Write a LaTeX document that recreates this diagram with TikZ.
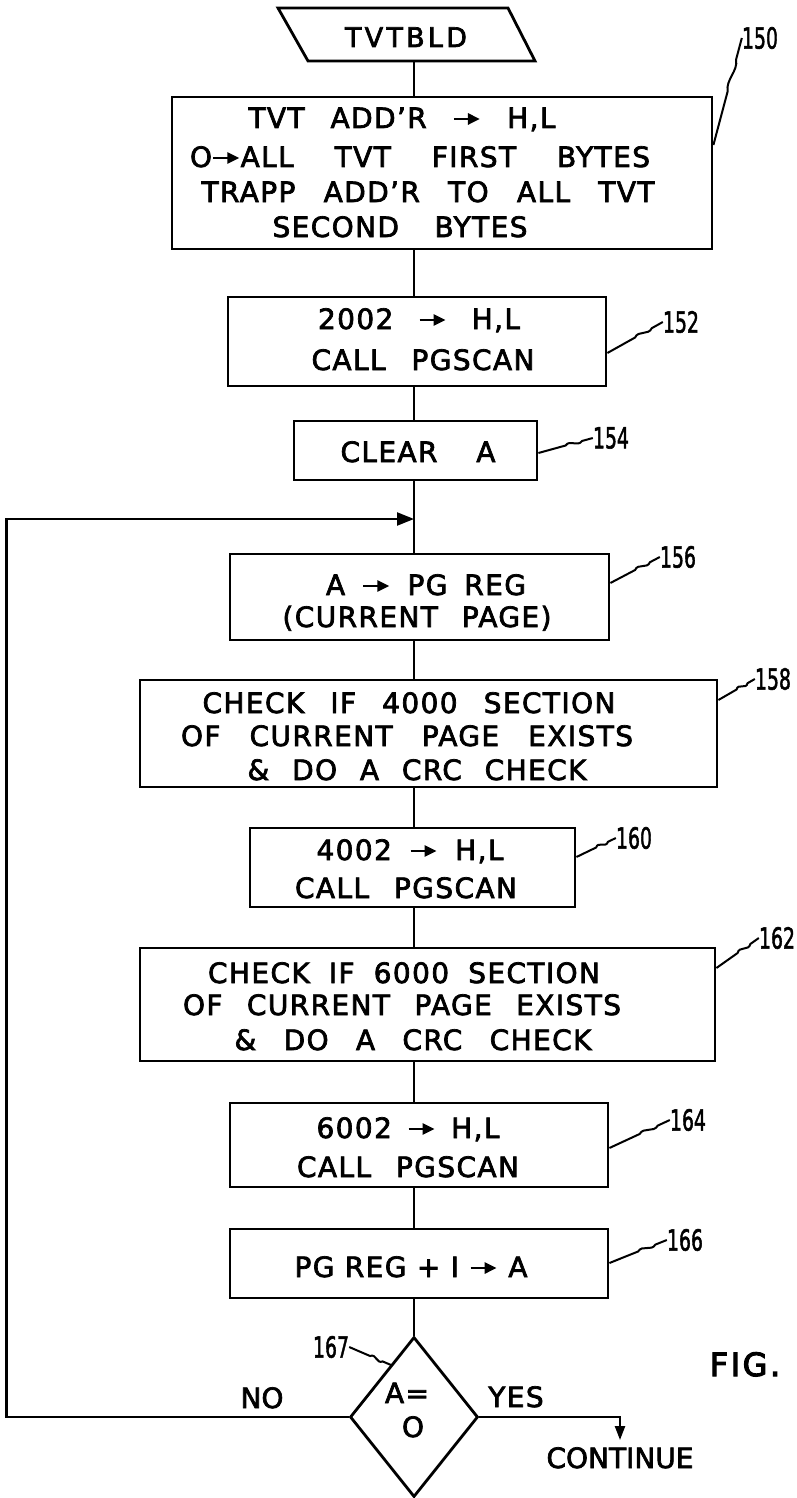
\documentclass[tikz,border=0pt]{standalone}
\usepackage{fontspec}
\usepackage{graphicx}
\setmainfont{DejaVu Sans}[LetterSpace=5,FakeBold=2.5]
\newfontfamily\numfont{DejaVu Sans}[FakeBold=2]
\usetikzlibrary{arrows.meta,shapes.geometric,calc}
\newcommand{\rarr}{\tikz[x=1pt,y=1pt,baseline=-9pt]{\draw[line width=2.6pt,-{Triangle[length=12pt,width=11pt]}] (0,0) -- (26,0);}}
\newcommand{\tl}[2]{\makebox[#1pt][s]{#2}}
\newcommand{\leader}[2]{\draw[lead] (#1) -- ($(#1)!0.5!(#2)$) .. controls ($(#1)!0.6!(#2)!5pt!90:(#2)$) and ($(#1)!0.7!(#2)!5pt!-90:(#2)$) .. ($(#1)!0.8!(#2)$) -- (#2);}
\begin{document}
\begin{tikzpicture}[x=1pt,y=-1pt,
  box/.style={draw,line width=2.8pt,inner sep=0pt},
  conn/.style={line width=2.3pt},
  lead/.style={line width=2pt},
  txt/.style={anchor=base,inner sep=0pt,font=\fontsize{28}{32}\selectfont},
  lab/.style={inner sep=0pt,font=\numfont\fontsize{29}{32}\selectfont}]
\fill[white] (0,0) rectangle (796,1498);
\useasboundingbox (0,0) rectangle (796,1498);
\coordinate (main) at (414,0);

% start symbol
\draw[line width=2.8pt,line join=miter] (278,8) -- (508,8) -- (535,61) -- (308,61) -- cycle;
\node[txt,font=\fontsize{27}{30}\selectfont\addfontfeature{LetterSpace=12}] (tvt) at (406,47) {TVTBLD};
\coordinate (tvtb) at (414,61);

% boxes
\node[box,minimum width=540pt,minimum height=152pt] (b150) at (442,173) {};
\node[box,minimum width=378pt,minimum height=89pt] (b152) at (417,341.5) {};
\node[box,minimum width=243pt,minimum height=59pt] (b154) at (415.5,450.5) {};
\node[box,minimum width=379pt,minimum height=86pt] (b156) at (419.5,597) {};
\node[box,minimum width=577pt,minimum height=107pt] (b158) at (428.5,733.5) {};
\node[box,minimum width=325pt,minimum height=79pt] (b160) at (412.5,867.5) {};
\node[box,minimum width=575pt,minimum height=113pt] (b162) at (427.5,1004.5) {};
\node[box,minimum width=378pt,minimum height=84pt] (b164) at (419,1145) {};
\node[box,minimum width=378pt,minimum height=69pt] (b166) at (419,1263.5) {};
\node[draw,diamond,line width=2.8pt,inner sep=0pt,minimum width=128pt,minimum height=160pt] (dia) at (414,1417) {};

% texts
\node[txt] (t150a) at (402,128) {\tl{307}{TVT ADD'R \rarr\ H,L}};
\node[txt] (t150b) at (420,167) {\tl{460}{O\rarr ALL TVT FIRST BYTES}};
\node[txt] (t150c) at (428,202) {\tl{453}{TRAPP ADD'R TO ALL TVT}};
\node[txt] (t150d) at (400,237) {\tl{255}{SECOND BYTES}};
\node[txt] (t152a) at (419,329) {\tl{202}{2002 \rarr\ H,L}};
\node[txt] (t152b) at (423,370) {\tl{223}{CALL PGSCAN}};
\node[txt] (t154) at (418,462) {\tl{155}{CLEAR A}};
\node[txt] (t156a) at (426,595) {\tl{200}{A \rarr\ PG REG}};
\node[txt] (t156b) at (417,627) {\tl{269}{(CURRENT PAGE)}};
\node[txt] (t158a) at (409,713) {\tl{413}{CHECK IF 4000 SECTION}};
\node[txt] (t158b) at (407,746) {\tl{452}{OF CURRENT PAGE EXISTS}};
\node[txt] (t158c) at (417,780) {\tl{339}{\& DO A CRC CHECK}};
\node[txt] (t160a) at (410,860) {\tl{187}{4002 \rarr\ H,L}};
\node[txt] (t160b) at (406,898) {\tl{222}{CALL PGSCAN}};
\node[txt] (t162a) at (404,983) {\tl{392}{CHECK IF 6000 SECTION}};
\node[txt] (t162b) at (402,1015) {\tl{438}{OF CURRENT PAGE EXISTS}};
\node[txt] (t162c) at (413,1050) {\tl{357}{\& DO A CRC CHECK}};
\node[txt] (t164a) at (408,1138) {\tl{183}{6002 \rarr\ H,L}};
\node[txt] (t164b) at (408,1177) {\tl{222}{CALL PGSCAN}};
\node[txt] (t166) at (411,1277) {\tl{233}{PG REG + I \rarr\ A}};
\node[txt] (dA) at (407,1403) {A=};
\node[txt] (dO) at (413,1437) {O};
\node[txt,font=\fontsize{28}{32}\selectfont\addfontfeature{LetterSpace=0}] (no) at (262,1408) {NO};
\node[txt] (yes) at (516,1407) {YES};
\node[txt,font=\fontsize{28}{32}\selectfont\addfontfeature{LetterSpace=0}] (cont) at (620,1468) {CONTINUE};
\node[txt,font=\fontsize{32}{36}\selectfont\addfontfeature{LetterSpace=8,FakeBold=3.5}] (fig) at (745,1376) {FIG.};

% reference labels
\node[lab] (n150) at (760,38) {\scalebox{0.65}[1]{150}};
\node[lab] (n152) at (681,322) {\scalebox{0.65}[1]{152}};
\node[lab] (n154) at (611,438) {\scalebox{0.65}[1]{154}};
\node[lab] (n156) at (678,557) {\scalebox{0.65}[1]{156}};
\node[lab] (n158) at (773,679) {\scalebox{0.65}[1]{158}};
\node[lab] (n160) at (634,838) {\scalebox{0.65}[1]{160}};
\node[lab] (n162) at (777,938) {\scalebox{0.65}[1]{162}};
\node[lab] (n164) at (688,1120) {\scalebox{0.65}[1]{164}};
\node[lab] (n166) at (685,1240) {\scalebox{0.65}[1]{166}};
\node[lab] (n167) at (331,1347) {\scalebox{0.65}[1]{167}};

% leader start points
\coordinate (s150) at (b150.east |- 0,145);
\coordinate (s152) at (b152.east |- 0,353);
\coordinate (s154) at (b154.east |- 0,453);
\coordinate (s156) at (b156.east |- 0,583);
\coordinate (s158) at (b158.east |- 0,700);
\coordinate (s160) at (b160.east |- 0,857);
\coordinate (s162) at (b162.east |- 0,968);
\coordinate (s164) at (b164.east |- 0,1148);
\coordinate (s166) at (b166.east |- 0,1263);
\coordinate (s167) at (391,1365);
\leader{s150}{n150.west}
\leader{s152}{n152.west}
\leader{s154}{n154.west}
\leader{s156}{n156.west}
\leader{s158}{n158.west}
\leader{s160}{n160.west}
\leader{s162}{n162.west}
\leader{s164}{n164.west}
\leader{s166}{n166.west}
\leader{n167.east}{s167}

% flow connectors
\coordinate (join) at (414,519);
\draw[conn] (tvtb) -- (b150.north -| main);
\draw[conn] (b150.south -| main) -- (b152.north -| main);
\draw[conn] (b152.south -| main) -- (b154.north -| main);
\draw[conn] (b154.south -| main) -- (b156.north -| main);
\draw[conn] (b156.south -| main) -- (b158.north -| main);
\draw[conn] (b158.south -| main) -- (b160.north -| main);
\draw[conn] (b160.south -| main) -- (b162.north -| main);
\draw[conn] (b162.south -| main) -- (b164.north -| main);
\draw[conn] (b164.south -| main) -- (b166.north -| main);
\draw[conn] (b166.south -| main) -- (dia.north);
\draw[conn,-{Triangle[length=17pt,width=13pt]}] (dia.west) -- ++(-342,0) |- (join);
\draw[conn,-{Triangle[length=14pt,width=10pt]}] (dia.east) -| ([yshift=7pt]cont.north);
\end{tikzpicture}
\end{document}
